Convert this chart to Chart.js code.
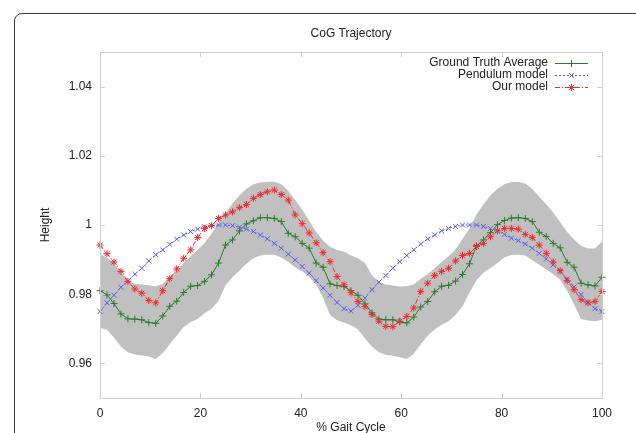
<!DOCTYPE html>
<html>
<head>
<meta charset="utf-8">
<title>CoG Trajectory</title>
<script src="https://cdn.jsdelivr.net/npm/chart.js@4.4.1/dist/chart.umd.min.js"></script>
<style>
  html, body { margin: 0; padding: 0; background: #fff; overflow: hidden; }
  #wrap { position: relative; width: 636px; height: 433px; overflow: hidden; }
  #frame { position: absolute; left: 14px; top: 13px; width: 700px; height: 520px;
           border: 1.5px solid #3a3a3a; border-radius: 8px; box-sizing: border-box; }
  #cog { position: absolute; left: 0; top: 0; }
</style>
</head>
<body>
<div id="wrap">
  <div id="frame"></div>
  <canvas id="cog" width="636" height="433"></canvas>
</div>
<script>
// % of gait cycle where each sample was taken
const gaitPct = [0, 1.39, 2.78, 4.17, 5.56, 6.94, 8.33, 9.72, 11.11, 12.5, 13.89, 15.28, 16.67, 18.06, 19.44,
  20.83, 22.22, 23.61, 25, 26.39, 27.78, 29.17, 30.56, 31.94, 33.33, 34.72, 36.11, 37.5, 38.89, 40.28,
  41.67, 43.06, 44.44, 45.83, 47.22, 48.61, 50, 51.39, 52.78, 54.17, 55.56, 56.94, 58.33, 59.72, 61.11,
  62.5, 63.89, 65.28, 66.67, 68.06, 69.44, 70.83, 72.22, 73.61, 75, 76.39, 77.78, 79.17, 80.56, 81.94,
  83.33, 84.72, 86.11, 87.5, 88.89, 90.28, 91.67, 93.06, 94.44, 95.83, 97.22, 98.61, 100];

const groundTruth = [0.981, 0.9798, 0.9773, 0.9743, 0.9729, 0.9728, 0.9726, 0.9718, 0.9716, 0.9737,
  0.9765, 0.978, 0.9805, 0.9823, 0.9825, 0.9837, 0.9856, 0.989, 0.9942, 0.9957,
  0.9983, 1.0003, 1.0012, 1.0021, 1.0021, 1.0019, 1.001, 0.9976, 0.9966, 0.9947,
  0.9933, 0.989, 0.9878, 0.983, 0.9825, 0.9822, 0.981, 0.9797, 0.9772, 0.9746,
  0.9728, 0.9726, 0.9726, 0.972, 0.9717, 0.9734, 0.9763, 0.9779, 0.9807, 0.9823,
  0.9826, 0.9838, 0.9857, 0.9888, 0.994, 0.9957, 0.9978, 1.0001, 1.0013, 1.002,
  1.0021, 1.0019, 1.001, 0.9979, 0.9967, 0.9947, 0.9934, 0.9892, 0.9878, 0.9832,
  0.9827, 0.9824, 0.9849];

const pendulum = [0.975, 0.9775, 0.9797, 0.982, 0.9838, 0.9858, 0.9875, 0.9896, 0.9914, 0.9928,
  0.9944, 0.9959, 0.9971, 0.9981, 0.9988, 0.9995, 0.9998, 1.0, 1.0, 0.9998,
  0.9994, 0.9988, 0.9981, 0.9971, 0.996, 0.9947, 0.9933, 0.9916, 0.9899, 0.988,
  0.9861, 0.9839, 0.9818, 0.9797, 0.9776, 0.9758, 0.9751, 0.9768, 0.9789, 0.9813,
  0.9835, 0.9854, 0.9875, 0.9894, 0.9912, 0.9928, 0.9945, 0.996, 0.9971, 0.9983,
  0.999, 0.9996, 1.0, 1.0, 1.0, 0.9996, 0.999, 0.9983, 0.9973, 0.9962,
  0.9955, 0.9945, 0.9933, 0.9918, 0.9902, 0.9885, 0.9866, 0.9844, 0.9821, 0.9799,
  0.9777, 0.9758, 0.975];

const ourModel = [0.9942, 0.9917, 0.9893, 0.9866, 0.9837, 0.9815, 0.9803, 0.9782, 0.9775, 0.981,
  0.9845, 0.9873, 0.9904, 0.9928, 0.9964, 0.999, 0.9998, 1.0019, 1.0029, 1.0038,
  1.005, 1.0059, 1.0077, 1.0088, 1.0096, 1.0101, 1.0088, 1.0072, 1.0029, 1.0004,
  0.9977, 0.9949, 0.992, 0.9894, 0.9851, 0.9827, 0.9804, 0.9779, 0.9764, 0.9741,
  0.9722, 0.9707, 0.9706, 0.9722, 0.9736, 0.976, 0.9808, 0.9832, 0.9854, 0.9866,
  0.9875, 0.9896, 0.9912, 0.9918, 0.9938, 0.9947, 0.9966, 0.9983, 0.999, 0.999,
  0.9988, 0.9973, 0.9964, 0.9942, 0.9918, 0.9893, 0.9868, 0.9839, 0.9813, 0.9784,
  0.9775, 0.9779, 0.9808];

// spread of the ground truth (grey band)
const bandUpper = [0.9915, 0.9905, 0.989, 0.9862, 0.9838, 0.983, 0.9828, 0.9826, 0.9822, 0.983,
  0.985, 0.9868, 0.989, 0.991, 0.9928, 0.9948, 0.9975, 1.0005, 1.0035, 1.0062,
  1.0085, 1.0105, 1.0118, 1.0123, 1.0125, 1.0125, 1.0118, 1.0098, 1.0072, 1.0045,
  1.0012, 0.998, 0.9955, 0.9937, 0.9928, 0.9923, 0.9912, 0.9904, 0.989, 0.9855,
  0.9835, 0.9828, 0.9825, 0.9822, 0.9823, 0.9828, 0.9845, 0.9858, 0.9875, 0.9893,
  0.991, 0.993, 0.996, 0.999, 1.003, 1.006, 1.0085, 1.0105, 1.0118, 1.0124,
  1.0125, 1.012, 1.0105, 1.0082, 1.006, 1.0036, 1.0008, 0.998, 0.9958, 0.994,
  0.9932, 0.9932, 0.9952];

const bandLower = [0.9703, 0.9697, 0.9675, 0.9648, 0.9632, 0.9626, 0.9623, 0.962, 0.9613, 0.963,
  0.9655, 0.968, 0.9705, 0.972, 0.9728, 0.9745, 0.9758, 0.978, 0.9825, 0.985,
  0.9868, 0.9888, 0.9904, 0.9912, 0.9914, 0.9914, 0.9906, 0.9893, 0.9878, 0.9866,
  0.985, 0.9828, 0.979, 0.974, 0.9725, 0.9718, 0.971, 0.9698, 0.9672, 0.9648,
  0.9632, 0.9625, 0.9622, 0.9618, 0.9613, 0.9628, 0.9655, 0.968, 0.9698, 0.9712,
  0.9722, 0.974, 0.9765, 0.9805, 0.984, 0.9862, 0.9876, 0.989, 0.9906, 0.9913,
  0.9914, 0.9912, 0.9898, 0.9885, 0.9872, 0.9858, 0.9842, 0.981, 0.977, 0.9728,
  0.9724, 0.9722, 0.9726];

const xTicks = [0, 20, 40, 60, 80, 100];
const yTicks = [0.96, 0.98, 1, 1.02, 1.04];

const GREEN = '#2d7a2d';
const BLUE = '#5c5cf5';
const RED = '#f22a2a';
const FONT = '"Liberation Sans", Arial, sans-serif';

function pts(values) {
    return values.map((v, i) => ({ x: gaitPct[i], y: v }));
}

const legendItems = [
    { label: 'Ground Truth Average', color: GREEN, dash: [], marker: 'plus' },
    { label: 'Pendulum model', color: BLUE, dash: [2, 2], marker: 'x' },
    { label: 'Our model', color: RED, dash: [5, 2, 1, 2], marker: 'star' }
];

function drawMarker(ctx, kind, x, y, r) {
    ctx.beginPath();
    if (kind === 'plus' || kind === 'star') {
        ctx.moveTo(x - r, y); ctx.lineTo(x + r, y);
        ctx.moveTo(x, y - r); ctx.lineTo(x, y + r);
    }
    if (kind === 'x' || kind === 'star') {
        const d = r * 0.75;
        ctx.moveTo(x - d, y - d); ctx.lineTo(x + d, y + d);
        ctx.moveTo(x - d, y + d); ctx.lineTo(x + d, y - d);
    }
    ctx.stroke();
}

// frame, inward ticks, titles and the legend, gnuplot style
const decorations = {
    id: 'decorations',
    afterDraw(chart) {
        const { ctx, chartArea: a, scales } = chart;
        ctx.save();
        ctx.strokeStyle = '#cfcfcf';
        ctx.lineWidth = 1;
        ctx.strokeRect(Math.round(a.left) + 0.5, Math.round(a.top) + 0.5,
            Math.round(a.right - a.left), Math.round(a.bottom - a.top));
        ctx.beginPath();
        xTicks.forEach(v => {
            const px = Math.round(scales.x.getPixelForValue(v)) + 0.5;
            ctx.moveTo(px, a.bottom); ctx.lineTo(px, a.bottom - 5);
            ctx.moveTo(px, a.top); ctx.lineTo(px, a.top + 5);
        });
        yTicks.forEach(v => {
            const py = Math.round(scales.y.getPixelForValue(v)) + 0.5;
            ctx.moveTo(a.left, py); ctx.lineTo(a.left + 5, py);
            ctx.moveTo(a.right, py); ctx.lineTo(a.right - 5, py);
        });
        ctx.stroke();

        ctx.fillStyle = '#222';
        ctx.font = '12px ' + FONT;
        ctx.textAlign = 'center';
        ctx.textBaseline = 'middle';
        const cx = (a.left + a.right) / 2;
        ctx.fillText('CoG Trajectory', cx, 34);
        ctx.fillText('% Gait Cycle', cx, 428);
        ctx.save();
        ctx.translate(46, (a.top + a.bottom) / 2);
        ctx.rotate(-Math.PI / 2);
        ctx.fillText('Height', 0, 0);
        ctx.restore();

        ctx.textAlign = 'right';
        legendItems.forEach((item, i) => {
            const yy = a.top + 11 + i * 12;
            ctx.fillStyle = '#222';
            ctx.fillText(item.label, a.right - 54, yy);
            ctx.strokeStyle = item.color;
            ctx.lineWidth = 1;
            ctx.setLineDash(item.dash);
            ctx.beginPath();
            ctx.moveTo(a.right - 47, yy + 0.5);
            ctx.lineTo(a.right - 14, yy + 0.5);
            ctx.stroke();
            ctx.setLineDash([]);
            drawMarker(ctx, item.marker, a.right - 30.5, yy + 0.5, 3.5);
        });
        ctx.restore();
    }
};

const seriesBase = {
    borderWidth: 1,
    pointRadius: 3.5,
    pointBorderWidth: 1,
    pointHoverRadius: 3.5,
    fill: false,
    tension: 0,
    clip: 6
};

new Chart(document.getElementById('cog'), {
    type: 'line',
    data: {
        datasets: [
            Object.assign({}, seriesBase, {
                label: 'Ground Truth Average', data: pts(groundTruth),
                borderColor: GREEN, pointStyle: 'cross', pointBorderColor: GREEN, order: 1
            }),
            Object.assign({}, seriesBase, {
                label: 'Pendulum model', data: pts(pendulum),
                borderColor: BLUE, borderDash: [2, 2], pointStyle: 'crossRot',
                pointBorderColor: BLUE, order: 2
            }),
            Object.assign({}, seriesBase, {
                label: 'Our model', data: pts(ourModel),
                borderColor: RED, borderDash: [5, 2, 1, 2], pointStyle: 'star',
                pointBorderColor: RED, pointRadius: 3.5, order: 0
            }),
            {
                label: 'upper', data: pts(bandUpper), borderWidth: 0, pointRadius: 0,
                fill: false, order: 5
            },
            {
                label: 'lower', data: pts(bandLower), borderWidth: 0, pointRadius: 0,
                fill: '-1', backgroundColor: '#c0c0c0', order: 6
            }
        ]
    },
    options: {
        responsive: false,
        animation: false,
        events: [],
        layout: { padding: { top: 52, right: 34, left: 0, bottom: 0 } },
        plugins: {
            legend: { display: false },
            title: { display: false },
            tooltip: { enabled: false },
            filler: { drawTime: 'beforeDatasetsDraw' }
        },
        scales: {
            x: {
                type: 'linear',
                min: 0,
                max: 100,
                afterBuildTicks: s => { s.ticks = xTicks.map(v => ({ value: v })); },
                afterFit: s => { s.height = 35; },
                grid: { display: false, drawTicks: false },
                border: { display: false },
                ticks: { color: '#222', font: { size: 12, family: FONT }, padding: 8, maxRotation: 0 }
            },
            y: {
                min: 0.95,
                max: 1.05,
                afterBuildTicks: s => { s.ticks = yTicks.map(v => ({ value: v })); },
                afterFit: s => { s.width = 100; },
                grid: { display: false, drawTicks: false },
                border: { display: false },
                ticks: {
                    color: '#222',
                    font: { size: 12, family: FONT },
                    padding: 8,
                    callback: v => (v === 1 ? '1' : v.toFixed(2))
                }
            }
        }
    },
    plugins: [decorations]
});
</script>
</body>
</html>
